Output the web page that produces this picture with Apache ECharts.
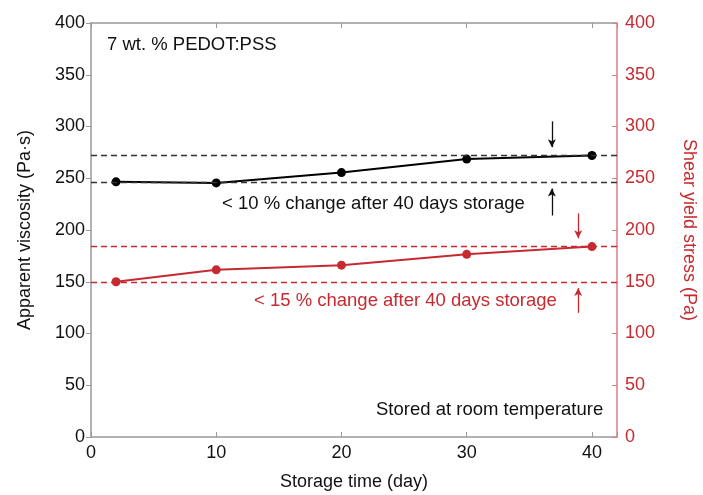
<!DOCTYPE html>
<html>
<head>
<meta charset="utf-8">
<script src="https://cdn.jsdelivr.net/npm/echarts@6/dist/echarts.min.js"></script>
<style>
html, body { margin: 0; padding: 0; background: #fff; }
#container { width: 703px; height: 495px; }
</style>
</head>
<body>
<div id="container"></div>
<script>
// storage days and measured values
var days = [2, 10, 20, 30, 40];
var viscosity = [246.5, 245.5, 255.5, 268.5, 272];
var yieldStress = [150, 161.5, 166, 176.5, 184];
// dashed bounds
var viscBounds = [246.5, 272.5];
var stressBounds = [150, 184];
// arrows: [x, from, to]
var viscArrows = [[36.8, 305, 280], [36.8, 214, 240]];
var stressArrows = [[38.9, 216, 192], [38.9, 120, 144]];
var xTicks = [0, 10, 20, 30, 40];

var red = '#c62a30';
var font = 'Liberation Sans, Arial, sans-serif';

function pts(xs, ys) {
  return xs.map(function (x, i) { return [x, ys[i]]; });
}
function arrowLines(list) {
  return list.map(function (a) {
    return [{ coord: [a[0], a[1]] }, { coord: [a[0], a[2]] }];
  });
}
function hLines(vals) {
  return vals.map(function (v) { return { yAxis: v }; });
}

var option = {
  animation: false,
  backgroundColor: '#fff',
  textStyle: { fontFamily: font },
  grid: { left: 91, right: 86, top: 23, bottom: 58, containLabel: false, outerBoundsMode: 'none' },
  xAxis: [{
    type: 'value', min: 0, max: 42, interval: 10,
    name: 'Storage time (day)', nameLocation: 'middle', nameGap: 36,
    nameTextStyle: { fontSize: 18, color: '#111' },
    axisLine: { onZero: false, lineStyle: { color: '#999', width: 1.5 } },
    axisTick: { inside: true, length: 5, lineStyle: { color: '#999' } },
    axisLabel: { fontSize: 18, color: '#111', margin: 7,
      formatter: function (v) { return xTicks.indexOf(v) >= 0 ? String(v) : ''; } },
    splitLine: { show: false }
  }, {
    type: 'value', min: 0, max: 42, interval: 10, position: 'top',
    axisLine: { onZero: false, lineStyle: { color: '#999', width: 1.5 } },
    axisTick: { inside: true, length: 5, lineStyle: { color: '#999' } },
    axisLabel: { show: false },
    splitLine: { show: false }
  }],
  yAxis: [{
    type: 'value', min: 0, max: 400, interval: 50,
    name: 'Apparent viscosity (Pa·s)', nameLocation: 'middle', nameGap: 57,
    nameTextStyle: { fontSize: 18, color: '#111' },
    axisLine: { show: true, onZero: false, lineStyle: { color: '#999', width: 1.5 } },
    axisTick: { show: true, length: 5, lineStyle: { color: '#999' } },
    axisLabel: { fontSize: 18, color: '#111', margin: 6 },
    splitLine: { show: false }
  }, {
    type: 'value', min: 0, max: 400, interval: 50, position: 'right',
    name: 'Shear yield stress (Pa)', nameLocation: 'middle', nameGap: 63, nameRotate: -90,
    nameTextStyle: { fontSize: 18, color: red },
    axisLine: { show: true, onZero: false, lineStyle: { color: '#d98080', width: 1.5 } },
    axisTick: { show: true, inside: true, length: 5, lineStyle: { color: '#d98080' } },
    axisLabel: { fontSize: 18, color: red, margin: 8 },
    splitLine: { show: false }
  }],
  series: [{
    type: 'line', yAxisIndex: 0,
    data: pts(days, viscosity),
    symbol: 'circle', symbolSize: 9,
    lineStyle: { color: '#000', width: 2 },
    itemStyle: { color: '#000' },
    markLine: {
      silent: true, symbol: 'none', label: { show: false },
      lineStyle: { color: '#333', type: [6, 4], width: 1.3 },
      data: hLines(viscBounds)
    },
    z: 3
  }, {
    type: 'line', yAxisIndex: 1,
    data: pts(days, yieldStress),
    symbol: 'circle', symbolSize: 9,
    lineStyle: { color: red, width: 2 },
    itemStyle: { color: red },
    markLine: {
      silent: true, symbol: 'none', label: { show: false },
      lineStyle: { color: red, type: [6, 4], width: 1.3 },
      data: hLines(stressBounds)
    },
    z: 3
  }, {
    type: 'line', yAxisIndex: 0, data: [], symbol: 'none',
    markLine: {
      silent: true, symbol: ['none', 'arrow'], symbolSize: [6, 8],
      label: { show: false },
      lineStyle: { color: '#111', type: 'solid', width: 1.3 },
      data: arrowLines(viscArrows)
    }
  }, {
    type: 'line', yAxisIndex: 1, data: [], symbol: 'none',
    markLine: {
      silent: true, symbol: ['none', 'arrow'], symbolSize: [6, 8],
      label: { show: false },
      lineStyle: { color: red, type: 'solid', width: 1.3 },
      data: arrowLines(stressArrows)
    }
  }],
  graphic: [
    { type: 'text', left: 107, top: 35, style: { text: '7 wt. % PEDOT:PSS', fontSize: 18.5, fill: '#111', fontFamily: font } },
    { type: 'text', left: 222, top: 194, style: { text: '< 10 % change after 40 days storage', fontSize: 18.5, fill: '#111', fontFamily: font } },
    { type: 'text', left: 254, top: 291, style: { text: '< 15 % change after 40 days storage', fontSize: 18.5, fill: red, fontFamily: font } },
    { type: 'text', left: 376, top: 400, style: { text: 'Stored at room temperature', fontSize: 18.5, fill: '#111', fontFamily: font } }
  ]
};

var myChart = echarts.init(document.getElementById('container'), null, { renderer: 'canvas' });
myChart.setOption(option);
</script>
</body>
</html>
